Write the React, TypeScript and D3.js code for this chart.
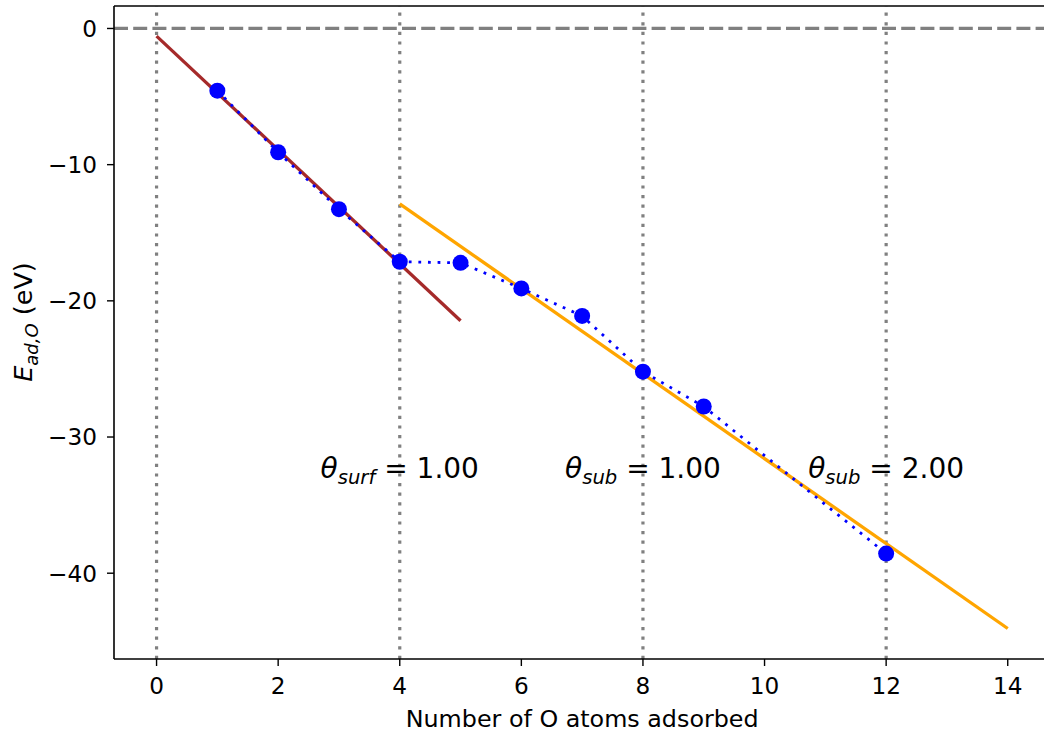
import React from "react";
import * as d3 from "d3";

const nAtoms = [1, 2, 3, 4, 5, 6, 7, 8, 9, 12];
const energies = [-4.57, -9.09, -13.27, -17.13, -17.21, -19.09, -21.11, -25.2, -27.76, -38.56];
const surfFitX = [0, 5];
const surfFitY = [-0.56, -21.46];
const subFitX = [4, 14];
const subFitY = [-12.88, -44.06];
const vLines = [4, 8, 12, 0];
const xTicks = [0, 2, 4, 6, 8, 10, 12, 14];
const yTicks = [0, -10, -20, -30, -40];
const labels = [
  { x: 4, sub: "surf", value: "1.00" },
  { x: 8, sub: "sub", value: "1.00" },
  { x: 12, sub: "sub", value: "2.00" },
];
const labelY = -33;

const W = 1044;
const H = 736;
const FONT = "DejaVu Sans, sans-serif";

export default function App() {
  const x = d3.scaleLinear().domain([-0.7, 14.7]).range([114, 1050.3]);
  const y = d3.scaleLinear().domain([-46.3, 1.65]).range([659, 6]);
  const line = d3
    .line<[number, number]>()
    .x((d) => x(d[0]))
    .y((d) => y(d[1]));
  const pts: [number, number][] = nAtoms.map((n, i) => [n, energies[i]]);
  const surf: [number, number][] = surfFitX.map((v, i) => [v, surfFitY[i]]);
  const sub: [number, number][] = subFitX.map((v, i) => [v, subFitY[i]]);
  const fmt = (v: number) => (v < 0 ? "\u2212" + Math.abs(v) : String(v));
  const [x0, x1] = x.range();
  const [y0, y1] = y.range();
  const TICK = 23.2;

  return (
    <svg
      width={W}
      height={H}
      style={{ position: "absolute", left: 0, top: 0, background: "#fff" }}
      fontFamily={FONT}
    >
      <defs>
        <clipPath id="plot">
          <rect x={x0} y={y1} width={x1 - x0} height={y0 - y1} />
        </clipPath>
      </defs>
      <g clipPath="url(#plot)">
        {vLines.map((v) => (
          <line
            key={v}
            x1={x(v)}
            x2={x(v)}
            y1={y0}
            y2={y1}
            stroke="#808080"
            strokeWidth={3.2}
            strokeDasharray="3.2 6.4"
          />
        ))}
        <line
          x1={x0}
          x2={x1}
          y1={y(0)}
          y2={y(0)}
          stroke="#808080"
          strokeWidth={3.3}
          strokeDasharray="14 5.2"
        />
        <path d={line(surf) || ""} stroke="#a52a2a" strokeWidth={3.3} fill="none" />
        <path d={line(sub) || ""} stroke="#ffa500" strokeWidth={3.3} fill="none" />
        <path
          d={line(pts) || ""}
          stroke="#0000ff"
          strokeWidth={2.8}
          strokeDasharray="2.8 6.8"
          fill="none"
        />
        {pts.map((p, i) => (
          <circle key={i} cx={x(p[0])} cy={y(p[1])} r={8} fill="#0000ff" />
        ))}
      </g>
      {labels.map((l, i) => (
        <text key={i} x={x(l.x)} y={y(labelY)} fontSize={28} textAnchor="middle" fill="#000">
          <tspan fontStyle="italic">θ</tspan>
          <tspan fontStyle="italic" fontSize={19.6} dy={6.5}>
            {l.sub}
          </tspan>
          <tspan dy={-6.5}>{" = " + l.value}</tspan>
        </text>
      ))}
      {/* spines */}
      <g stroke="#000" strokeWidth={1.6} fill="none">
        <line x1={x0} x2={x0} y1={y0} y2={y1} />
        <line x1={x0} x2={x1} y1={y0} y2={y0} />
        <line x1={x0} x2={x1} y1={y1} y2={y1} />
        <line x1={x1} x2={x1} y1={y0} y2={y1} />
      </g>
      {xTicks.map((t) => (
        <g key={t}>
          <line x1={x(t)} x2={x(t)} y1={y0} y2={y0 + 7} stroke="#000" strokeWidth={1.4} />
          <text x={x(t)} y={y0 + 35} fontSize={TICK} textAnchor="middle">
            {fmt(t)}
          </text>
        </g>
      ))}
      {yTicks.map((t) => (
        <g key={t}>
          <line x1={x0 - 7} x2={x0} y1={y(t)} y2={y(t)} stroke="#000" strokeWidth={1.4} />
          <text x={x0 - 17} y={y(t) + 8.4} fontSize={TICK} textAnchor="end">
            {fmt(t)}
          </text>
        </g>
      ))}
      <text x={(x0 + x1) / 2} y={727} fontSize={23.8} textAnchor="middle">
        Number of O atoms adsorbed
      </text>
      <text transform={`translate(32, 322) rotate(-90)`} fontSize={25.5} textAnchor="middle">
        <tspan fontStyle="italic">E</tspan>
        <tspan fontStyle="italic" fontSize={18} dy={5.5}>
          ad,O
        </tspan>
        <tspan dy={-5.5}>{" (eV)"}</tspan>
      </text>
    </svg>
  );
}
